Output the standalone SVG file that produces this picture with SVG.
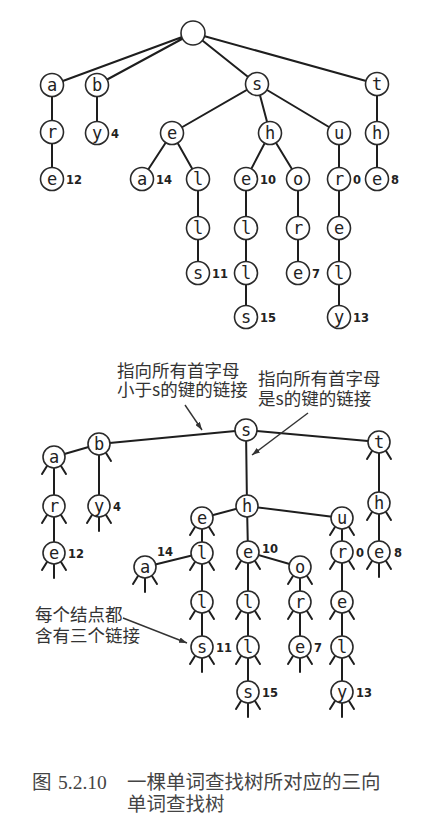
<svg xmlns="http://www.w3.org/2000/svg" xmlns:xlink="http://www.w3.org/1999/xlink" width="442" height="833" viewBox="0 0 442 833">
<style>
.bg{fill:#fff}
.edge{stroke:#1e1e1e;stroke-width:2;fill:none;stroke-linecap:round}
.stub{stroke:#1e1e1e;stroke-width:2;fill:none;stroke-linecap:round}
.n circle{fill:#fff;stroke:#2a2a2a;stroke-width:1.6}
.n text{font-family:"DejaVu Sans Mono","Liberation Mono",monospace;font-size:17px;text-anchor:middle;fill:#222}
.n text.v{font-family:"DejaVu Sans","Liberation Sans",sans-serif;font-weight:bold;font-size:11.5px;text-anchor:start;fill:#222}
.note{font-family:"Noto Sans CJK SC","DejaVu Sans",sans-serif;font-size:17.5px;fill:#333}
.arrow{stroke:#333;stroke-width:1.4;fill:none;marker-end:url(#ah)}
.cap{font-family:"Liberation Serif","Noto Sans CJK SC",serif;font-size:19.5px;fill:#444}
</style>
<defs>
<marker id="ah" viewBox="0 0 10 7" refX="10" refY="3.5" markerWidth="8" markerHeight="5.6" markerUnits="userSpaceOnUse" orient="auto">
<path d="M0,0 L10,3.5 L0,7 z" fill="#333"/>
</marker>
<path id="sL" class="stub" d="M-7,9 L-12,17"/>
<path id="sM" class="stub" d="M0,11 L0,25"/>
<path id="sR" class="stub" d="M7,9 L12,17"/>
</defs>
<rect class="bg" x="0" y="0" width="442" height="833"/>

<!-- ===== Top: trie ===== -->
<g id="top-connectors">
<path class="edge" d="M193,33 L52,85 M193,33 L97,85 M193,33 L257,84 M193,33 L377,84"/>
<path class="edge" d="M52,85 L52,132 L52,179 M97,85 L97,133"/>
<path class="edge" d="M257,84 L172,133 M257,84 L270,133 M257,84 L339,133"/>
<path class="edge" d="M377,84 L377,133 L377,179"/>
<path class="edge" d="M172,133 L142,179 M172,133 L198,179 L198,228 L198,273"/>
<path class="edge" d="M270,133 L246,179 M270,133 L298,179"/>
<path class="edge" d="M246,179 L246,228 L246,273 L246,317"/>
<path class="edge" d="M298,179 L298,228 L298,273"/>
<path class="edge" d="M339,133 L339,179 L339,228 L339,273 L339,317"/>
</g>
<g id="t-root" class="n" transform="translate(193,33)"><circle r="12"/></g>
<g id="t-a" class="n" transform="translate(52,85)"><circle r="11.5"/><text y="6">a</text></g>
<g id="t-b" class="n" transform="translate(97,85)"><circle r="11.5"/><text y="6">b</text></g>
<g id="t-s" class="n" transform="translate(257,84)"><circle r="11.5"/><text y="6">s</text></g>
<g id="t-t" class="n" transform="translate(377,84)"><circle r="11.5"/><text y="6">t</text></g>
<g id="t-ar" class="n" transform="translate(52,132)"><circle r="11.5"/><text y="6">r</text></g>
<g id="t-by" class="n" transform="translate(97,133)"><circle r="11.5"/><text y="6">y</text><text class="v" x="14" y="5">4</text></g>
<g id="t-se" class="n" transform="translate(172,133)"><circle r="11.5"/><text y="6">e</text></g>
<g id="t-sh" class="n" transform="translate(270,133)"><circle r="11.5"/><text y="6">h</text></g>
<g id="t-su" class="n" transform="translate(339,133)"><circle r="11.5"/><text y="6">u</text></g>
<g id="t-th" class="n" transform="translate(377,133)"><circle r="11.5"/><text y="6">h</text></g>
<g id="t-are" class="n" transform="translate(52,179)"><circle r="11.5"/><text y="6">e</text><text class="v" x="14" y="5">12</text></g>
<g id="t-sea" class="n" transform="translate(142,179)"><circle r="11.5"/><text y="6">a</text><text class="v" x="14" y="5">14</text></g>
<g id="t-sel" class="n" transform="translate(198,179)"><circle r="11.5"/><text y="6">l</text></g>
<g id="t-she" class="n" transform="translate(246,179)"><circle r="11.5"/><text y="6">e</text><text class="v" x="14" y="5">10</text></g>
<g id="t-sho" class="n" transform="translate(298,179)"><circle r="11.5"/><text y="6">o</text></g>
<g id="t-sur" class="n" transform="translate(339,179)"><circle r="11.5"/><text y="6">r</text><text class="v" x="14" y="5">0</text></g>
<g id="t-the" class="n" transform="translate(377,179)"><circle r="11.5"/><text y="6">e</text><text class="v" x="14" y="5">8</text></g>
<g id="t-sell" class="n" transform="translate(198,228)"><circle r="11.5"/><text y="6">l</text></g>
<g id="t-shel" class="n" transform="translate(246,228)"><circle r="11.5"/><text y="6">l</text></g>
<g id="t-shor" class="n" transform="translate(298,228)"><circle r="11.5"/><text y="6">r</text></g>
<g id="t-sure" class="n" transform="translate(339,228)"><circle r="11.5"/><text y="6">e</text></g>
<g id="t-sells" class="n" transform="translate(198,273)"><circle r="11.5"/><text y="6">s</text><text class="v" x="14" y="5">11</text></g>
<g id="t-shell" class="n" transform="translate(246,273)"><circle r="11.5"/><text y="6">l</text></g>
<g id="t-shore" class="n" transform="translate(298,273)"><circle r="11.5"/><text y="6">e</text><text class="v" x="14" y="5">7</text></g>
<g id="t-surel" class="n" transform="translate(339,273)"><circle r="11.5"/><text y="6">l</text></g>
<g id="t-shells" class="n" transform="translate(246,317)"><circle r="11.5"/><text y="6">s</text><text class="v" x="14" y="5">15</text></g>
<g id="t-surely" class="n" transform="translate(339,317)"><circle r="11.5"/><text y="6">y</text><text class="v" x="14" y="5">13</text></g>

<!-- ===== Bottom: TST ===== -->
<g id="bottom-connectors">
<path class="edge" d="M246,430 L99,444 M246,430 L379,442 M246,430 L247,506"/>
<path class="edge" d="M99,444 L54,457 M99,444 L99,506 M54,457 L54,506 L54,553"/>
<path class="edge" d="M379,442 L379,503 L379,552"/>
<path class="edge" d="M247,506 L202,518 M247,506 L248,552 M247,506 L342,518"/>
<path class="edge" d="M202,518 L202,553 L202,602 L202,647 M202,553 L145,567"/>
<path class="edge" d="M248,552 L248,602 L248,647 L248,692 M248,552 L300,567"/>
<path class="edge" d="M300,567 L300,602 L300,647"/>
<path class="edge" d="M342,518 L342,552 L342,602 L342,647 L342,692"/>
</g>
<g id="b-s" class="n" transform="translate(246,430)"><circle r="11"/><text y="6">s</text></g>
<g id="b-b" class="n" transform="translate(99,444)"><use xlink:href="#sR"/><circle r="11"/><text y="6">b</text></g>
<g id="b-t" class="n" transform="translate(379,442)"><use xlink:href="#sL"/><use xlink:href="#sR"/><circle r="11"/><text y="6">t</text></g>
<g id="b-a" class="n" transform="translate(54,457)"><use xlink:href="#sL"/><use xlink:href="#sR"/><circle r="11"/><text y="6">a</text></g>
<g id="b-sh" class="n" transform="translate(247,506)"><circle r="11"/><text y="6">h</text></g>
<g id="b-by" class="n" transform="translate(99,506)"><use xlink:href="#sL"/><use xlink:href="#sM"/><use xlink:href="#sR"/><circle r="11"/><text y="6">y</text><text class="v" x="14" y="5">4</text></g>
<g id="b-ar" class="n" transform="translate(54,506)"><use xlink:href="#sL"/><use xlink:href="#sR"/><circle r="11"/><text y="6">r</text></g>
<g id="b-th" class="n" transform="translate(379,503)"><use xlink:href="#sL"/><use xlink:href="#sR"/><circle r="11"/><text y="6">h</text></g>
<g id="b-se" class="n" transform="translate(202,518)"><use xlink:href="#sL"/><use xlink:href="#sR"/><circle r="11"/><text y="6">e</text></g>
<g id="b-su" class="n" transform="translate(342,518)"><use xlink:href="#sL"/><use xlink:href="#sR"/><circle r="11"/><text y="6">u</text></g>
<g id="b-are" class="n" transform="translate(54,553)"><use xlink:href="#sL"/><use xlink:href="#sM"/><use xlink:href="#sR"/><circle r="11"/><text y="6">e</text><text class="v" x="14" y="5">12</text></g>
<g id="b-sel" class="n" transform="translate(202,553)"><use xlink:href="#sL"/><use xlink:href="#sR"/><circle r="11"/><text y="6">l</text></g>
<g id="b-she" class="n" transform="translate(248,552)"><use xlink:href="#sL"/><use xlink:href="#sR"/><circle r="11"/><text y="6">e</text><text class="v" x="14" y="1">10</text></g>
<g id="b-sur" class="n" transform="translate(342,552)"><use xlink:href="#sL"/><use xlink:href="#sR"/><circle r="11"/><text y="6">r</text><text class="v" x="14" y="5">0</text></g>
<g id="b-the" class="n" transform="translate(379,552)"><use xlink:href="#sL"/><use xlink:href="#sM"/><use xlink:href="#sR"/><circle r="11"/><text y="6">e</text><text class="v" x="15" y="5">8</text></g>
<g id="b-sea" class="n" transform="translate(145,567)"><use xlink:href="#sL"/><use xlink:href="#sM"/><use xlink:href="#sR"/><circle r="11"/><text y="6">a</text><text class="v" x="12" y="-11">14</text></g>
<g id="b-sho" class="n" transform="translate(300,567)"><use xlink:href="#sL"/><use xlink:href="#sR"/><circle r="11"/><text y="6">o</text></g>
<g id="b-sell" class="n" transform="translate(202,602)"><use xlink:href="#sL"/><use xlink:href="#sR"/><circle r="11"/><text y="6">l</text></g>
<g id="b-shel" class="n" transform="translate(248,602)"><use xlink:href="#sL"/><use xlink:href="#sR"/><circle r="11"/><text y="6">l</text></g>
<g id="b-shor" class="n" transform="translate(300,602)"><use xlink:href="#sL"/><use xlink:href="#sR"/><circle r="11"/><text y="6">r</text></g>
<g id="b-sure" class="n" transform="translate(342,602)"><use xlink:href="#sL"/><use xlink:href="#sR"/><circle r="11"/><text y="6">e</text></g>
<g id="b-sells" class="n" transform="translate(202,647)"><use xlink:href="#sL"/><use xlink:href="#sM"/><use xlink:href="#sR"/><circle r="11"/><text y="6">s</text><text class="v" x="14" y="5">11</text></g>
<g id="b-shell" class="n" transform="translate(248,647)"><use xlink:href="#sL"/><use xlink:href="#sR"/><circle r="11"/><text y="6">l</text></g>
<g id="b-shore" class="n" transform="translate(300,647)"><use xlink:href="#sL"/><use xlink:href="#sM"/><use xlink:href="#sR"/><circle r="11"/><text y="6">e</text><text class="v" x="14" y="5">7</text></g>
<g id="b-surel" class="n" transform="translate(342,647)"><use xlink:href="#sL"/><use xlink:href="#sR"/><circle r="11"/><text y="6">l</text></g>
<g id="b-shells" class="n" transform="translate(248,692)"><use xlink:href="#sL"/><use xlink:href="#sM"/><use xlink:href="#sR"/><circle r="11"/><text y="6">s</text><text class="v" x="14" y="5">15</text></g>
<g id="b-surely" class="n" transform="translate(342,692)"><use xlink:href="#sL"/><use xlink:href="#sM"/><use xlink:href="#sR"/><circle r="11"/><text y="6">y</text><text class="v" x="14" y="5">13</text></g>

<!-- ===== Annotations ===== -->
<g id="note-less">
<text class="note"><tspan x="117" y="377">指向所有首字母</tspan><tspan x="117" y="396">小于s的键的链接</tspan></text>
<path class="arrow" d="M185,405 L202,430"/>
</g>
<g id="note-equal">
<text class="note"><tspan x="258" y="385">指向所有首字母</tspan><tspan x="258" y="405">是s的键的链接</tspan></text>
<path class="arrow" d="M308,413 L252,455"/>
</g>
<g id="note-three">
<text class="note"><tspan x="35" y="621">每个结点都</tspan><tspan x="35" y="642">含有三个链接</tspan></text>
<path class="arrow" d="M123,618 L187,643"/>
</g>

<!-- ===== Caption ===== -->
<g id="caption">
<text class="cap" x="32" y="789">图</text>
<text class="cap" x="58" y="789">5.2.10</text>
<text class="cap"><tspan x="127" y="789">一棵单词查找树所对应的三向</tspan><tspan x="127" y="811">单词查找树</tspan></text>
</g>
</svg>
